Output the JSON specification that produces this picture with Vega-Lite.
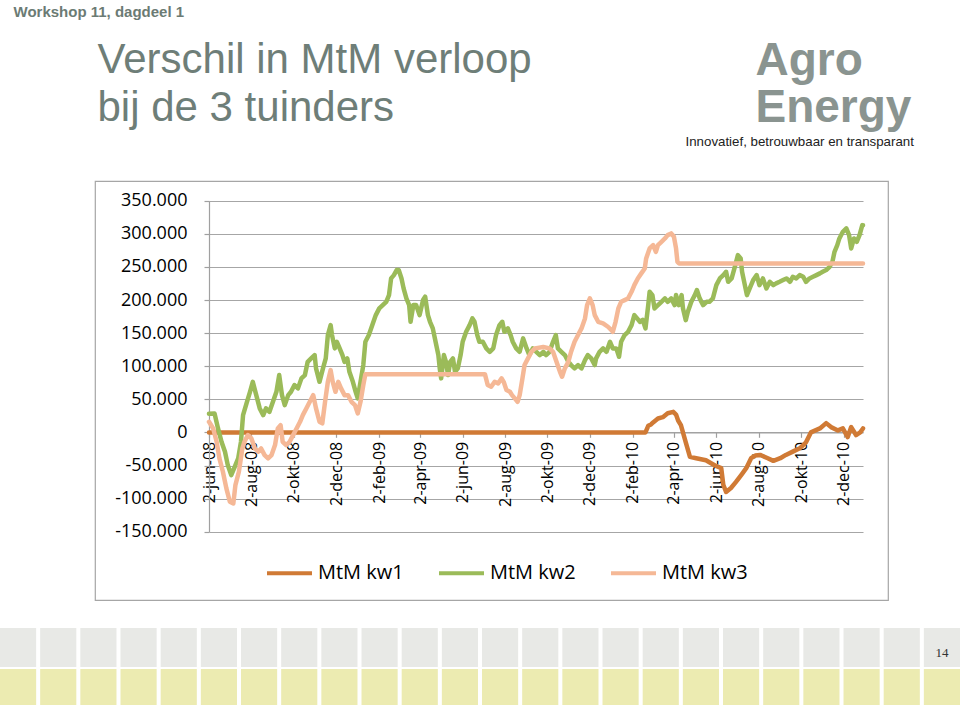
{
  "$schema": "https://vega.github.io/schema/vega-lite/v6.json",
  "autosize": {"type": "none"},
  "width": 793,
  "height": 419,
  "padding": {"left": 95, "top": 181, "right": 72, "bottom": 105},
  "background": "white",
  "config": {
    "view": {"stroke": "#a6a6a6", "strokeWidth": 1.2},
    "font": "Open Sans",
    "locale": {
      "number": {"decimal": ",", "thousands": ".", "grouping": [3], "currency": ["€ ", ""], "minus": "-"},
      "time": {
        "dateTime": "%a %e %B %Y %X",
        "date": "%d-%m-%Y",
        "time": "%H:%M:%S",
        "periods": ["AM", "PM"],
        "days": ["zondag", "maandag", "dinsdag", "woensdag", "donderdag", "vrijdag", "zaterdag"],
        "shortDays": ["zo", "ma", "di", "wo", "do", "vr", "za"],
        "months": ["januari", "februari", "maart", "april", "mei", "juni", "juli", "augustus", "september", "oktober", "november", "december"],
        "shortMonths": ["jan", "feb", "mrt", "apr", "mei", "jun", "jul", "aug", "sep", "okt", "nov", "dec"]
      }
    }
  },
  "resolve": {"scale": {"x": "independent", "y": "independent", "color": "independent"}, "axis": {"x": "independent", "y": "independent"}},
  "layer": [
    {
      "data": {
        "format": {"parse": {"dag": "date:'%Y-%m-%d'"}},
        "values": [
          {"reeks": "MtM kw1", "dag": "2008-06-02", "mtm": 0},
          {"reeks": "MtM kw1", "dag": "2010-02-20", "mtm": 0},
          {"reeks": "MtM kw1", "dag": "2010-02-24", "mtm": 10000},
          {"reeks": "MtM kw1", "dag": "2010-02-28", "mtm": 12000},
          {"reeks": "MtM kw1", "dag": "2010-03-03", "mtm": 15000},
          {"reeks": "MtM kw1", "dag": "2010-03-10", "mtm": 21000},
          {"reeks": "MtM kw1", "dag": "2010-03-17", "mtm": 23000},
          {"reeks": "MtM kw1", "dag": "2010-03-24", "mtm": 29000},
          {"reeks": "MtM kw1", "dag": "2010-04-01", "mtm": 31000},
          {"reeks": "MtM kw1", "dag": "2010-04-05", "mtm": 27000},
          {"reeks": "MtM kw1", "dag": "2010-04-08", "mtm": 18000},
          {"reeks": "MtM kw1", "dag": "2010-04-12", "mtm": 11000},
          {"reeks": "MtM kw1", "dag": "2010-04-19", "mtm": -15000},
          {"reeks": "MtM kw1", "dag": "2010-04-25", "mtm": -37000},
          {"reeks": "MtM kw1", "dag": "2010-05-04", "mtm": -39000},
          {"reeks": "MtM kw1", "dag": "2010-05-18", "mtm": -42000},
          {"reeks": "MtM kw1", "dag": "2010-05-31", "mtm": -50000},
          {"reeks": "MtM kw1", "dag": "2010-06-09", "mtm": -54000},
          {"reeks": "MtM kw1", "dag": "2010-06-12", "mtm": -79000},
          {"reeks": "MtM kw1", "dag": "2010-06-16", "mtm": -90000},
          {"reeks": "MtM kw1", "dag": "2010-06-23", "mtm": -84000},
          {"reeks": "MtM kw1", "dag": "2010-06-30", "mtm": -75000},
          {"reeks": "MtM kw1", "dag": "2010-07-08", "mtm": -64000},
          {"reeks": "MtM kw1", "dag": "2010-07-15", "mtm": -54000},
          {"reeks": "MtM kw1", "dag": "2010-07-22", "mtm": -39000},
          {"reeks": "MtM kw1", "dag": "2010-07-28", "mtm": -35000},
          {"reeks": "MtM kw1", "dag": "2010-08-04", "mtm": -34000},
          {"reeks": "MtM kw1", "dag": "2010-08-15", "mtm": -39000},
          {"reeks": "MtM kw1", "dag": "2010-08-23", "mtm": -43000},
          {"reeks": "MtM kw1", "dag": "2010-09-02", "mtm": -39000},
          {"reeks": "MtM kw1", "dag": "2010-09-10", "mtm": -34000},
          {"reeks": "MtM kw1", "dag": "2010-09-20", "mtm": -29000},
          {"reeks": "MtM kw1", "dag": "2010-09-30", "mtm": -24000},
          {"reeks": "MtM kw1", "dag": "2010-10-09", "mtm": -15000},
          {"reeks": "MtM kw1", "dag": "2010-10-16", "mtm": 0},
          {"reeks": "MtM kw1", "dag": "2010-10-29", "mtm": 6000},
          {"reeks": "MtM kw1", "dag": "2010-11-07", "mtm": 14000},
          {"reeks": "MtM kw1", "dag": "2010-11-14", "mtm": 8000},
          {"reeks": "MtM kw1", "dag": "2010-11-24", "mtm": 3000},
          {"reeks": "MtM kw1", "dag": "2010-12-01", "mtm": 6000},
          {"reeks": "MtM kw1", "dag": "2010-12-08", "mtm": -7000},
          {"reeks": "MtM kw1", "dag": "2010-12-13", "mtm": 8000},
          {"reeks": "MtM kw1", "dag": "2010-12-20", "mtm": -4000},
          {"reeks": "MtM kw1", "dag": "2010-12-26", "mtm": 0},
          {"reeks": "MtM kw1", "dag": "2010-12-30", "mtm": 6000},

          {"reeks": "MtM kw2", "dag": "2008-06-02", "mtm": 28000},
          {"reeks": "MtM kw2", "dag": "2008-06-10", "mtm": 28700},
          {"reeks": "MtM kw2", "dag": "2008-06-15", "mtm": 6000},
          {"reeks": "MtM kw2", "dag": "2008-06-20", "mtm": -14200},
          {"reeks": "MtM kw2", "dag": "2008-06-25", "mtm": -29300},
          {"reeks": "MtM kw2", "dag": "2008-06-29", "mtm": -49400},
          {"reeks": "MtM kw2", "dag": "2008-07-04", "mtm": -64500},
          {"reeks": "MtM kw2", "dag": "2008-07-09", "mtm": -52000},
          {"reeks": "MtM kw2", "dag": "2008-07-14", "mtm": -39300},
          {"reeks": "MtM kw2", "dag": "2008-07-18", "mtm": -14200},
          {"reeks": "MtM kw2", "dag": "2008-07-21", "mtm": 26100},
          {"reeks": "MtM kw2", "dag": "2008-07-26", "mtm": 43800},
          {"reeks": "MtM kw2", "dag": "2008-07-31", "mtm": 61300},
          {"reeks": "MtM kw2", "dag": "2008-08-04", "mtm": 76400},
          {"reeks": "MtM kw2", "dag": "2008-08-09", "mtm": 56300},
          {"reeks": "MtM kw2", "dag": "2008-08-14", "mtm": 36200},
          {"reeks": "MtM kw2", "dag": "2008-08-19", "mtm": 26100},
          {"reeks": "MtM kw2", "dag": "2008-08-23", "mtm": 36200},
          {"reeks": "MtM kw2", "dag": "2008-08-28", "mtm": 31100},
          {"reeks": "MtM kw2", "dag": "2008-09-02", "mtm": 46200},
          {"reeks": "MtM kw2", "dag": "2008-09-07", "mtm": 61300},
          {"reeks": "MtM kw2", "dag": "2008-09-11", "mtm": 86600},
          {"reeks": "MtM kw2", "dag": "2008-09-15", "mtm": 56300},
          {"reeks": "MtM kw2", "dag": "2008-09-19", "mtm": 41200},
          {"reeks": "MtM kw2", "dag": "2008-09-24", "mtm": 56300},
          {"reeks": "MtM kw2", "dag": "2008-09-28", "mtm": 61300},
          {"reeks": "MtM kw2", "dag": "2008-10-03", "mtm": 71500},
          {"reeks": "MtM kw2", "dag": "2008-10-08", "mtm": 66500},
          {"reeks": "MtM kw2", "dag": "2008-10-13", "mtm": 81600},
          {"reeks": "MtM kw2", "dag": "2008-10-18", "mtm": 86600},
          {"reeks": "MtM kw2", "dag": "2008-10-22", "mtm": 106600},
          {"reeks": "MtM kw2", "dag": "2008-10-27", "mtm": 111800},
          {"reeks": "MtM kw2", "dag": "2008-11-01", "mtm": 116800},
          {"reeks": "MtM kw2", "dag": "2008-11-03", "mtm": 96700},
          {"reeks": "MtM kw2", "dag": "2008-11-08", "mtm": 76400},
          {"reeks": "MtM kw2", "dag": "2008-11-13", "mtm": 96700},
          {"reeks": "MtM kw2", "dag": "2008-11-17", "mtm": 111800},
          {"reeks": "MtM kw2", "dag": "2008-11-20", "mtm": 147000},
          {"reeks": "MtM kw2", "dag": "2008-11-24", "mtm": 162100},
          {"reeks": "MtM kw2", "dag": "2008-11-26", "mtm": 147000},
          {"reeks": "MtM kw2", "dag": "2008-11-30", "mtm": 126900},
          {"reeks": "MtM kw2", "dag": "2008-12-03", "mtm": 136900},
          {"reeks": "MtM kw2", "dag": "2008-12-07", "mtm": 126900},
          {"reeks": "MtM kw2", "dag": "2008-12-11", "mtm": 116800},
          {"reeks": "MtM kw2", "dag": "2008-12-14", "mtm": 106600},
          {"reeks": "MtM kw2", "dag": "2008-12-18", "mtm": 111800},
          {"reeks": "MtM kw2", "dag": "2008-12-21", "mtm": 91500},
          {"reeks": "MtM kw2", "dag": "2008-12-26", "mtm": 76400},
          {"reeks": "MtM kw2", "dag": "2008-12-30", "mtm": 61300},
          {"reeks": "MtM kw2", "dag": "2009-01-02", "mtm": 51400},
          {"reeks": "MtM kw2", "dag": "2009-01-06", "mtm": 76400},
          {"reeks": "MtM kw2", "dag": "2009-01-10", "mtm": 101700},
          {"reeks": "MtM kw2", "dag": "2009-01-13", "mtm": 136900},
          {"reeks": "MtM kw2", "dag": "2009-01-18", "mtm": 147000},
          {"reeks": "MtM kw2", "dag": "2009-01-23", "mtm": 162100},
          {"reeks": "MtM kw2", "dag": "2009-01-28", "mtm": 177200},
          {"reeks": "MtM kw2", "dag": "2009-02-02", "mtm": 187300},
          {"reeks": "MtM kw2", "dag": "2009-02-07", "mtm": 192300},
          {"reeks": "MtM kw2", "dag": "2009-02-12", "mtm": 197300},
          {"reeks": "MtM kw2", "dag": "2009-02-16", "mtm": 207400},
          {"reeks": "MtM kw2", "dag": "2009-02-19", "mtm": 232600},
          {"reeks": "MtM kw2", "dag": "2009-02-23", "mtm": 237600},
          {"reeks": "MtM kw2", "dag": "2009-02-27", "mtm": 245200},
          {"reeks": "MtM kw2", "dag": "2009-03-02", "mtm": 245200},
          {"reeks": "MtM kw2", "dag": "2009-03-06", "mtm": 232600},
          {"reeks": "MtM kw2", "dag": "2009-03-09", "mtm": 217500},
          {"reeks": "MtM kw2", "dag": "2009-03-13", "mtm": 202400},
          {"reeks": "MtM kw2", "dag": "2009-03-17", "mtm": 192300},
          {"reeks": "MtM kw2", "dag": "2009-03-19", "mtm": 167100},
          {"reeks": "MtM kw2", "dag": "2009-03-23", "mtm": 192300},
          {"reeks": "MtM kw2", "dag": "2009-03-27", "mtm": 192300},
          {"reeks": "MtM kw2", "dag": "2009-04-01", "mtm": 177200},
          {"reeks": "MtM kw2", "dag": "2009-04-06", "mtm": 200000},
          {"reeks": "MtM kw2", "dag": "2009-04-09", "mtm": 205000},
          {"reeks": "MtM kw2", "dag": "2009-04-13", "mtm": 177200},
          {"reeks": "MtM kw2", "dag": "2009-04-16", "mtm": 167100},
          {"reeks": "MtM kw2", "dag": "2009-04-20", "mtm": 157100},
          {"reeks": "MtM kw2", "dag": "2009-04-24", "mtm": 136900},
          {"reeks": "MtM kw2", "dag": "2009-04-28", "mtm": 116800},
          {"reeks": "MtM kw2", "dag": "2009-04-30", "mtm": 96700},
          {"reeks": "MtM kw2", "dag": "2009-05-02", "mtm": 81600},
          {"reeks": "MtM kw2", "dag": "2009-05-06", "mtm": 116800},
          {"reeks": "MtM kw2", "dag": "2009-05-09", "mtm": 106600},
          {"reeks": "MtM kw2", "dag": "2009-05-12", "mtm": 86600},
          {"reeks": "MtM kw2", "dag": "2009-05-15", "mtm": 106600},
          {"reeks": "MtM kw2", "dag": "2009-05-19", "mtm": 111800},
          {"reeks": "MtM kw2", "dag": "2009-05-22", "mtm": 91500},
          {"reeks": "MtM kw2", "dag": "2009-05-26", "mtm": 96700},
          {"reeks": "MtM kw2", "dag": "2009-05-30", "mtm": 116800},
          {"reeks": "MtM kw2", "dag": "2009-06-02", "mtm": 136900},
          {"reeks": "MtM kw2", "dag": "2009-06-07", "mtm": 152000},
          {"reeks": "MtM kw2", "dag": "2009-06-12", "mtm": 162100},
          {"reeks": "MtM kw2", "dag": "2009-06-16", "mtm": 172200},
          {"reeks": "MtM kw2", "dag": "2009-06-19", "mtm": 167100},
          {"reeks": "MtM kw2", "dag": "2009-06-23", "mtm": 147000},
          {"reeks": "MtM kw2", "dag": "2009-06-26", "mtm": 136900},
          {"reeks": "MtM kw2", "dag": "2009-07-01", "mtm": 136900},
          {"reeks": "MtM kw2", "dag": "2009-07-06", "mtm": 126900},
          {"reeks": "MtM kw2", "dag": "2009-07-11", "mtm": 121800},
          {"reeks": "MtM kw2", "dag": "2009-07-16", "mtm": 126900},
          {"reeks": "MtM kw2", "dag": "2009-07-20", "mtm": 147000},
          {"reeks": "MtM kw2", "dag": "2009-07-25", "mtm": 162100},
          {"reeks": "MtM kw2", "dag": "2009-07-29", "mtm": 167100},
          {"reeks": "MtM kw2", "dag": "2009-08-01", "mtm": 152000},
          {"reeks": "MtM kw2", "dag": "2009-08-06", "mtm": 157100},
          {"reeks": "MtM kw2", "dag": "2009-08-10", "mtm": 147000},
          {"reeks": "MtM kw2", "dag": "2009-08-13", "mtm": 136900},
          {"reeks": "MtM kw2", "dag": "2009-08-18", "mtm": 126900},
          {"reeks": "MtM kw2", "dag": "2009-08-23", "mtm": 121800},
          {"reeks": "MtM kw2", "dag": "2009-08-28", "mtm": 142000},
          {"reeks": "MtM kw2", "dag": "2009-09-02", "mtm": 126900},
          {"reeks": "MtM kw2", "dag": "2009-09-06", "mtm": 116800},
          {"reeks": "MtM kw2", "dag": "2009-09-11", "mtm": 126900},
          {"reeks": "MtM kw2", "dag": "2009-09-16", "mtm": 121800},
          {"reeks": "MtM kw2", "dag": "2009-09-21", "mtm": 116800},
          {"reeks": "MtM kw2", "dag": "2009-09-26", "mtm": 121800},
          {"reeks": "MtM kw2", "dag": "2009-09-30", "mtm": 116800},
          {"reeks": "MtM kw2", "dag": "2009-10-05", "mtm": 121800},
          {"reeks": "MtM kw2", "dag": "2009-10-10", "mtm": 136900},
          {"reeks": "MtM kw2", "dag": "2009-10-14", "mtm": 147000},
          {"reeks": "MtM kw2", "dag": "2009-10-17", "mtm": 126900},
          {"reeks": "MtM kw2", "dag": "2009-10-22", "mtm": 121800},
          {"reeks": "MtM kw2", "dag": "2009-10-27", "mtm": 116800},
          {"reeks": "MtM kw2", "dag": "2009-11-01", "mtm": 106600},
          {"reeks": "MtM kw2", "dag": "2009-11-05", "mtm": 101700},
          {"reeks": "MtM kw2", "dag": "2009-11-10", "mtm": 96700},
          {"reeks": "MtM kw2", "dag": "2009-11-15", "mtm": 101700},
          {"reeks": "MtM kw2", "dag": "2009-11-20", "mtm": 96700},
          {"reeks": "MtM kw2", "dag": "2009-11-25", "mtm": 109200},
          {"reeks": "MtM kw2", "dag": "2009-11-29", "mtm": 116800},
          {"reeks": "MtM kw2", "dag": "2009-12-04", "mtm": 111800},
          {"reeks": "MtM kw2", "dag": "2009-12-09", "mtm": 101700},
          {"reeks": "MtM kw2", "dag": "2009-12-11", "mtm": 111800},
          {"reeks": "MtM kw2", "dag": "2009-12-16", "mtm": 121800},
          {"reeks": "MtM kw2", "dag": "2009-12-21", "mtm": 126900},
          {"reeks": "MtM kw2", "dag": "2009-12-26", "mtm": 121800},
          {"reeks": "MtM kw2", "dag": "2009-12-31", "mtm": 136900},
          {"reeks": "MtM kw2", "dag": "2010-01-04", "mtm": 126900},
          {"reeks": "MtM kw2", "dag": "2010-01-09", "mtm": 126900},
          {"reeks": "MtM kw2", "dag": "2010-01-13", "mtm": 114200},
          {"reeks": "MtM kw2", "dag": "2010-01-16", "mtm": 136900},
          {"reeks": "MtM kw2", "dag": "2010-01-21", "mtm": 147000},
          {"reeks": "MtM kw2", "dag": "2010-01-26", "mtm": 152000},
          {"reeks": "MtM kw2", "dag": "2010-01-31", "mtm": 162100},
          {"reeks": "MtM kw2", "dag": "2010-02-04", "mtm": 177200},
          {"reeks": "MtM kw2", "dag": "2010-02-08", "mtm": 172200},
          {"reeks": "MtM kw2", "dag": "2010-02-12", "mtm": 167100},
          {"reeks": "MtM kw2", "dag": "2010-02-16", "mtm": 170000},
          {"reeks": "MtM kw2", "dag": "2010-02-20", "mtm": 157100},
          {"reeks": "MtM kw2", "dag": "2010-02-24", "mtm": 192300},
          {"reeks": "MtM kw2", "dag": "2010-02-26", "mtm": 212400},
          {"reeks": "MtM kw2", "dag": "2010-03-02", "mtm": 207400},
          {"reeks": "MtM kw2", "dag": "2010-03-05", "mtm": 187300},
          {"reeks": "MtM kw2", "dag": "2010-03-10", "mtm": 192300},
          {"reeks": "MtM kw2", "dag": "2010-03-15", "mtm": 197300},
          {"reeks": "MtM kw2", "dag": "2010-03-20", "mtm": 202400},
          {"reeks": "MtM kw2", "dag": "2010-03-24", "mtm": 197300},
          {"reeks": "MtM kw2", "dag": "2010-03-29", "mtm": 202400},
          {"reeks": "MtM kw2", "dag": "2010-04-03", "mtm": 192300},
          {"reeks": "MtM kw2", "dag": "2010-04-05", "mtm": 207400},
          {"reeks": "MtM kw2", "dag": "2010-04-09", "mtm": 192300},
          {"reeks": "MtM kw2", "dag": "2010-04-13", "mtm": 207400},
          {"reeks": "MtM kw2", "dag": "2010-04-15", "mtm": 187300},
          {"reeks": "MtM kw2", "dag": "2010-04-19", "mtm": 169600},
          {"reeks": "MtM kw2", "dag": "2010-04-22", "mtm": 182200},
          {"reeks": "MtM kw2", "dag": "2010-04-27", "mtm": 197300},
          {"reeks": "MtM kw2", "dag": "2010-05-02", "mtm": 207400},
          {"reeks": "MtM kw2", "dag": "2010-05-05", "mtm": 215000},
          {"reeks": "MtM kw2", "dag": "2010-05-09", "mtm": 202400},
          {"reeks": "MtM kw2", "dag": "2010-05-14", "mtm": 192300},
          {"reeks": "MtM kw2", "dag": "2010-05-19", "mtm": 197300},
          {"reeks": "MtM kw2", "dag": "2010-05-23", "mtm": 197300},
          {"reeks": "MtM kw2", "dag": "2010-05-28", "mtm": 202400},
          {"reeks": "MtM kw2", "dag": "2010-06-02", "mtm": 222500},
          {"reeks": "MtM kw2", "dag": "2010-06-07", "mtm": 232600},
          {"reeks": "MtM kw2", "dag": "2010-06-12", "mtm": 237600},
          {"reeks": "MtM kw2", "dag": "2010-06-16", "mtm": 242600},
          {"reeks": "MtM kw2", "dag": "2010-06-19", "mtm": 227500},
          {"reeks": "MtM kw2", "dag": "2010-06-24", "mtm": 232600},
          {"reeks": "MtM kw2", "dag": "2010-06-28", "mtm": 247700},
          {"reeks": "MtM kw2", "dag": "2010-07-03", "mtm": 267800},
          {"reeks": "MtM kw2", "dag": "2010-07-07", "mtm": 262800},
          {"reeks": "MtM kw2", "dag": "2010-07-09", "mtm": 242600},
          {"reeks": "MtM kw2", "dag": "2010-07-13", "mtm": 222500},
          {"reeks": "MtM kw2", "dag": "2010-07-16", "mtm": 207400},
          {"reeks": "MtM kw2", "dag": "2010-07-20", "mtm": 217500},
          {"reeks": "MtM kw2", "dag": "2010-07-25", "mtm": 230000},
          {"reeks": "MtM kw2", "dag": "2010-07-30", "mtm": 237600},
          {"reeks": "MtM kw2", "dag": "2010-08-03", "mtm": 222500},
          {"reeks": "MtM kw2", "dag": "2010-08-08", "mtm": 232600},
          {"reeks": "MtM kw2", "dag": "2010-08-13", "mtm": 217500},
          {"reeks": "MtM kw2", "dag": "2010-08-18", "mtm": 227500},
          {"reeks": "MtM kw2", "dag": "2010-08-23", "mtm": 222500},
          {"reeks": "MtM kw2", "dag": "2010-08-27", "mtm": 225100},
          {"reeks": "MtM kw2", "dag": "2010-09-01", "mtm": 227500},
          {"reeks": "MtM kw2", "dag": "2010-09-06", "mtm": 230100},
          {"reeks": "MtM kw2", "dag": "2010-09-11", "mtm": 232600},
          {"reeks": "MtM kw2", "dag": "2010-09-16", "mtm": 227500},
          {"reeks": "MtM kw2", "dag": "2010-09-20", "mtm": 235100},
          {"reeks": "MtM kw2", "dag": "2010-09-25", "mtm": 232600},
          {"reeks": "MtM kw2", "dag": "2010-09-30", "mtm": 237600},
          {"reeks": "MtM kw2", "dag": "2010-10-05", "mtm": 235100},
          {"reeks": "MtM kw2", "dag": "2010-10-09", "mtm": 227500},
          {"reeks": "MtM kw2", "dag": "2010-10-14", "mtm": 232600},
          {"reeks": "MtM kw2", "dag": "2010-10-19", "mtm": 235100},
          {"reeks": "MtM kw2", "dag": "2010-10-24", "mtm": 237600},
          {"reeks": "MtM kw2", "dag": "2010-10-29", "mtm": 240200},
          {"reeks": "MtM kw2", "dag": "2010-11-02", "mtm": 242600},
          {"reeks": "MtM kw2", "dag": "2010-11-07", "mtm": 245200},
          {"reeks": "MtM kw2", "dag": "2010-11-12", "mtm": 250200},
          {"reeks": "MtM kw2", "dag": "2010-11-16", "mtm": 257700},
          {"reeks": "MtM kw2", "dag": "2010-11-19", "mtm": 272800},
          {"reeks": "MtM kw2", "dag": "2010-11-23", "mtm": 282900},
          {"reeks": "MtM kw2", "dag": "2010-11-26", "mtm": 293000},
          {"reeks": "MtM kw2", "dag": "2010-12-01", "mtm": 303000},
          {"reeks": "MtM kw2", "dag": "2010-12-06", "mtm": 308100},
          {"reeks": "MtM kw2", "dag": "2010-12-10", "mtm": 298000},
          {"reeks": "MtM kw2", "dag": "2010-12-13", "mtm": 277900},
          {"reeks": "MtM kw2", "dag": "2010-12-17", "mtm": 293000},
          {"reeks": "MtM kw2", "dag": "2010-12-21", "mtm": 287900},
          {"reeks": "MtM kw2", "dag": "2010-12-25", "mtm": 298000},
          {"reeks": "MtM kw2", "dag": "2010-12-29", "mtm": 313100},
          {"reeks": "MtM kw2", "dag": "2010-12-30", "mtm": 313000},

          {"reeks": "MtM kw3", "dag": "2008-06-02", "mtm": 16000},
          {"reeks": "MtM kw3", "dag": "2008-06-08", "mtm": 6000},
          {"reeks": "MtM kw3", "dag": "2008-06-13", "mtm": -14200},
          {"reeks": "MtM kw3", "dag": "2008-06-17", "mtm": -39300},
          {"reeks": "MtM kw3", "dag": "2008-06-22", "mtm": -59500},
          {"reeks": "MtM kw3", "dag": "2008-06-27", "mtm": -84600},
          {"reeks": "MtM kw3", "dag": "2008-07-02", "mtm": -104800},
          {"reeks": "MtM kw3", "dag": "2008-07-07", "mtm": -107300},
          {"reeks": "MtM kw3", "dag": "2008-07-10", "mtm": -79600},
          {"reeks": "MtM kw3", "dag": "2008-07-15", "mtm": -59500},
          {"reeks": "MtM kw3", "dag": "2008-07-20", "mtm": -24200},
          {"reeks": "MtM kw3", "dag": "2008-07-23", "mtm": -14200},
          {"reeks": "MtM kw3", "dag": "2008-07-28", "mtm": -4100},
          {"reeks": "MtM kw3", "dag": "2008-08-02", "mtm": -9100},
          {"reeks": "MtM kw3", "dag": "2008-08-07", "mtm": -24200},
          {"reeks": "MtM kw3", "dag": "2008-08-12", "mtm": -29300},
          {"reeks": "MtM kw3", "dag": "2008-08-16", "mtm": -24200},
          {"reeks": "MtM kw3", "dag": "2008-08-21", "mtm": -34300},
          {"reeks": "MtM kw3", "dag": "2008-08-26", "mtm": -39300},
          {"reeks": "MtM kw3", "dag": "2008-08-31", "mtm": -34300},
          {"reeks": "MtM kw3", "dag": "2008-09-05", "mtm": -19200},
          {"reeks": "MtM kw3", "dag": "2008-09-09", "mtm": 6000},
          {"reeks": "MtM kw3", "dag": "2008-09-13", "mtm": 11000},
          {"reeks": "MtM kw3", "dag": "2008-09-16", "mtm": -14200},
          {"reeks": "MtM kw3", "dag": "2008-09-21", "mtm": -19200},
          {"reeks": "MtM kw3", "dag": "2008-09-26", "mtm": -14200},
          {"reeks": "MtM kw3", "dag": "2008-10-01", "mtm": -4100},
          {"reeks": "MtM kw3", "dag": "2008-10-06", "mtm": 6000},
          {"reeks": "MtM kw3", "dag": "2008-10-11", "mtm": 16000},
          {"reeks": "MtM kw3", "dag": "2008-10-15", "mtm": 26100},
          {"reeks": "MtM kw3", "dag": "2008-10-20", "mtm": 36200},
          {"reeks": "MtM kw3", "dag": "2008-10-25", "mtm": 46200},
          {"reeks": "MtM kw3", "dag": "2008-10-30", "mtm": 56300},
          {"reeks": "MtM kw3", "dag": "2008-11-03", "mtm": 36200},
          {"reeks": "MtM kw3", "dag": "2008-11-08", "mtm": 16000},
          {"reeks": "MtM kw3", "dag": "2008-11-12", "mtm": 13600},
          {"reeks": "MtM kw3", "dag": "2008-11-16", "mtm": 46200},
          {"reeks": "MtM kw3", "dag": "2008-11-20", "mtm": 76400},
          {"reeks": "MtM kw3", "dag": "2008-11-24", "mtm": 94100},
          {"reeks": "MtM kw3", "dag": "2008-11-27", "mtm": 76400},
          {"reeks": "MtM kw3", "dag": "2008-12-01", "mtm": 61300},
          {"reeks": "MtM kw3", "dag": "2008-12-05", "mtm": 76400},
          {"reeks": "MtM kw3", "dag": "2008-12-09", "mtm": 66500},
          {"reeks": "MtM kw3", "dag": "2008-12-14", "mtm": 56300},
          {"reeks": "MtM kw3", "dag": "2008-12-19", "mtm": 56300},
          {"reeks": "MtM kw3", "dag": "2008-12-24", "mtm": 46200},
          {"reeks": "MtM kw3", "dag": "2008-12-29", "mtm": 41200},
          {"reeks": "MtM kw3", "dag": "2009-01-02", "mtm": 28700},
          {"reeks": "MtM kw3", "dag": "2009-01-06", "mtm": 46200},
          {"reeks": "MtM kw3", "dag": "2009-01-10", "mtm": 71500},
          {"reeks": "MtM kw3", "dag": "2009-01-13", "mtm": 88000},
          {"reeks": "MtM kw3", "dag": "2009-07-04", "mtm": 88000},
          {"reeks": "MtM kw3", "dag": "2009-07-08", "mtm": 71500},
          {"reeks": "MtM kw3", "dag": "2009-07-13", "mtm": 68900},
          {"reeks": "MtM kw3", "dag": "2009-07-18", "mtm": 76400},
          {"reeks": "MtM kw3", "dag": "2009-07-23", "mtm": 74000},
          {"reeks": "MtM kw3", "dag": "2009-07-28", "mtm": 81600},
          {"reeks": "MtM kw3", "dag": "2009-07-31", "mtm": 76400},
          {"reeks": "MtM kw3", "dag": "2009-08-04", "mtm": 63900},
          {"reeks": "MtM kw3", "dag": "2009-08-09", "mtm": 61300},
          {"reeks": "MtM kw3", "dag": "2009-08-12", "mtm": 56300},
          {"reeks": "MtM kw3", "dag": "2009-08-16", "mtm": 51400},
          {"reeks": "MtM kw3", "dag": "2009-08-20", "mtm": 46200},
          {"reeks": "MtM kw3", "dag": "2009-08-23", "mtm": 56300},
          {"reeks": "MtM kw3", "dag": "2009-08-27", "mtm": 81600},
          {"reeks": "MtM kw3", "dag": "2009-08-30", "mtm": 101700},
          {"reeks": "MtM kw3", "dag": "2009-09-04", "mtm": 111800},
          {"reeks": "MtM kw3", "dag": "2009-09-09", "mtm": 121800},
          {"reeks": "MtM kw3", "dag": "2009-09-14", "mtm": 126900},
          {"reeks": "MtM kw3", "dag": "2009-09-26", "mtm": 129000},
          {"reeks": "MtM kw3", "dag": "2009-10-05", "mtm": 126900},
          {"reeks": "MtM kw3", "dag": "2009-10-10", "mtm": 121800},
          {"reeks": "MtM kw3", "dag": "2009-10-15", "mtm": 106600},
          {"reeks": "MtM kw3", "dag": "2009-10-20", "mtm": 91500},
          {"reeks": "MtM kw3", "dag": "2009-10-23", "mtm": 84000},
          {"reeks": "MtM kw3", "dag": "2009-10-27", "mtm": 96700},
          {"reeks": "MtM kw3", "dag": "2009-11-01", "mtm": 106600},
          {"reeks": "MtM kw3", "dag": "2009-11-05", "mtm": 121800},
          {"reeks": "MtM kw3", "dag": "2009-11-10", "mtm": 136900},
          {"reeks": "MtM kw3", "dag": "2009-11-15", "mtm": 147000},
          {"reeks": "MtM kw3", "dag": "2009-11-20", "mtm": 157100},
          {"reeks": "MtM kw3", "dag": "2009-11-25", "mtm": 172200},
          {"reeks": "MtM kw3", "dag": "2009-11-28", "mtm": 192300},
          {"reeks": "MtM kw3", "dag": "2009-12-02", "mtm": 202400},
          {"reeks": "MtM kw3", "dag": "2009-12-06", "mtm": 192300},
          {"reeks": "MtM kw3", "dag": "2009-12-09", "mtm": 177200},
          {"reeks": "MtM kw3", "dag": "2009-12-14", "mtm": 167100},
          {"reeks": "MtM kw3", "dag": "2009-12-21", "mtm": 164700},
          {"reeks": "MtM kw3", "dag": "2009-12-28", "mtm": 159600},
          {"reeks": "MtM kw3", "dag": "2010-01-02", "mtm": 154500},
          {"reeks": "MtM kw3", "dag": "2010-01-04", "mtm": 152000},
          {"reeks": "MtM kw3", "dag": "2010-01-08", "mtm": 167100},
          {"reeks": "MtM kw3", "dag": "2010-01-12", "mtm": 187300},
          {"reeks": "MtM kw3", "dag": "2010-01-16", "mtm": 197300},
          {"reeks": "MtM kw3", "dag": "2010-01-21", "mtm": 199800},
          {"reeks": "MtM kw3", "dag": "2010-01-26", "mtm": 202400},
          {"reeks": "MtM kw3", "dag": "2010-01-31", "mtm": 212400},
          {"reeks": "MtM kw3", "dag": "2010-02-04", "mtm": 222500},
          {"reeks": "MtM kw3", "dag": "2010-02-09", "mtm": 232600},
          {"reeks": "MtM kw3", "dag": "2010-02-14", "mtm": 240200},
          {"reeks": "MtM kw3", "dag": "2010-02-19", "mtm": 247700},
          {"reeks": "MtM kw3", "dag": "2010-02-21", "mtm": 262800},
          {"reeks": "MtM kw3", "dag": "2010-02-26", "mtm": 277900},
          {"reeks": "MtM kw3", "dag": "2010-03-03", "mtm": 282900},
          {"reeks": "MtM kw3", "dag": "2010-03-07", "mtm": 272800},
          {"reeks": "MtM kw3", "dag": "2010-03-10", "mtm": 282900},
          {"reeks": "MtM kw3", "dag": "2010-03-15", "mtm": 287900},
          {"reeks": "MtM kw3", "dag": "2010-03-20", "mtm": 293000},
          {"reeks": "MtM kw3", "dag": "2010-03-24", "mtm": 298000},
          {"reeks": "MtM kw3", "dag": "2010-03-29", "mtm": 300600},
          {"reeks": "MtM kw3", "dag": "2010-04-02", "mtm": 295500},
          {"reeks": "MtM kw3", "dag": "2010-04-05", "mtm": 277900},
          {"reeks": "MtM kw3", "dag": "2010-04-07", "mtm": 257700},
          {"reeks": "MtM kw3", "dag": "2010-04-09", "mtm": 255300},
          {"reeks": "MtM kw3", "dag": "2010-12-30", "mtm": 255300}
        ]
      },
      "mark": {"type": "line", "strokeWidth": 4.5, "strokeJoin": "round", "strokeCap": "round"},
      "encoding": {
        "x": {
          "field": "dag", "type": "temporal",
          "scale": {"domain": [{"year": 2008, "month": 6, "date": 2}, {"year": 2010, "month": 12, "date": 30}], "range": [114, 768], "nice": false},
          "axis": {
            "orient": "bottom", "offset": -167.7,
            "values": [
              {"year": 2008, "month": 6, "date": 2}, {"year": 2008, "month": 8, "date": 2}, {"year": 2008, "month": 10, "date": 2}, {"year": 2008, "month": 12, "date": 2},
              {"year": 2009, "month": 2, "date": 2}, {"year": 2009, "month": 4, "date": 2}, {"year": 2009, "month": 6, "date": 2}, {"year": 2009, "month": 8, "date": 2},
              {"year": 2009, "month": 10, "date": 2}, {"year": 2009, "month": 12, "date": 2}, {"year": 2010, "month": 2, "date": 2}, {"year": 2010, "month": 4, "date": 2},
              {"year": 2010, "month": 6, "date": 2}, {"year": 2010, "month": 8, "date": 2}, {"year": 2010, "month": 10, "date": 2}, {"year": 2010, "month": 12, "date": 2}
            ],
            "format": "%-d-%b-%y",
            "labelAngle": -90, "labelFont": "Open Sans", "labelFontSize": 16, "labelColor": "#000000", "labelPadding": 4,
            "labelOverlap": false, "labelFlush": false, "labelBound": false,
            "grid": false, "domainColor": "#a0a0a0", "domainWidth": 1.2, "tickColor": "#a0a0a0", "tickSize": 5, "tickWidth": 1.2,
            "title": ["Agro", "Energy"], "titleX": 660, "titleY": -358, "titleAngle": 0, "titleAlign": "left", "titleBaseline": "alphabetic",
            "titleFont": "Liberation Sans", "titleFontWeight": "bold", "titleFontSize": 46, "titleLineHeight": 47, "titleColor": "#8a9490"
          }
        },
        "y": {
          "field": "mtm", "type": "quantitative",
          "scale": {"domain": [-150000, 350000], "range": [350.7, 19.7], "nice": false, "zero": false},
          "axis": {
            "orient": "left", "offset": -114,
            "values": [-150000, -100000, -50000, 0, 50000, 100000, 150000, 200000, 250000, 300000, 350000],
            "format": ",d",
            "labelFont": "Open Sans", "labelFontSize": 18, "labelColor": "#000000", "labelPadding": 17,
            "grid": true, "gridColor": "#a6a6a6", "gridWidth": 1.2,
            "domainColor": "#a0a0a0", "domainWidth": 1.2, "tickColor": "#a0a0a0", "tickSize": 5, "tickWidth": 1.2,
            "title": ["Verschil in MtM verloop", "bij de 3 tuinders"], "titleX": -112, "titleY": -108.3, "titleAngle": 0, "titleAlign": "left", "titleBaseline": "alphabetic",
            "titleFont": "Liberation Sans", "titleFontWeight": "normal", "titleFontSize": 42, "titleLineHeight": 47.5, "titleColor": "#6e7e78"
          }
        },
        "color": {
          "field": "reeks", "type": "nominal",
          "scale": {"domain": ["MtM kw1", "MtM kw2", "MtM kw3"], "range": ["#d07a35", "#9bbb59", "#f5b896"]},
          "legend": {
            "orient": "none", "legendX": 170, "legendY": 367.5, "direction": "horizontal", "title": null,
            "symbolType": "stroke", "symbolSize": 2025, "symbolStrokeWidth": 4,
            "labelFont": "Open Sans", "labelFontSize": 20, "labelColor": "#000000", "labelOffset": 4, "columnPadding": 27, "padding": 0
          }
        }
      }
    },
    {
      "layer": [
        {
          "data": {
            "values": [
              {"kolom": 1, "rij": "grijs"}, {"kolom": 2, "rij": "grijs"}, {"kolom": 3, "rij": "grijs"}, {"kolom": 4, "rij": "grijs"},
              {"kolom": 5, "rij": "grijs"}, {"kolom": 6, "rij": "grijs"}, {"kolom": 7, "rij": "grijs"}, {"kolom": 8, "rij": "grijs"},
              {"kolom": 9, "rij": "grijs"}, {"kolom": 10, "rij": "grijs"}, {"kolom": 11, "rij": "grijs"}, {"kolom": 12, "rij": "grijs"},
              {"kolom": 13, "rij": "grijs"}, {"kolom": 14, "rij": "grijs"}, {"kolom": 15, "rij": "grijs"}, {"kolom": 16, "rij": "grijs"},
              {"kolom": 17, "rij": "grijs"}, {"kolom": 18, "rij": "grijs"}, {"kolom": 19, "rij": "grijs"}, {"kolom": 20, "rij": "grijs"},
              {"kolom": 21, "rij": "grijs"}, {"kolom": 22, "rij": "grijs"}, {"kolom": 23, "rij": "grijs"}, {"kolom": 24, "rij": "grijs"},
              {"kolom": 1, "rij": "geel"}, {"kolom": 2, "rij": "geel"}, {"kolom": 3, "rij": "geel"}, {"kolom": 4, "rij": "geel"},
              {"kolom": 5, "rij": "geel"}, {"kolom": 6, "rij": "geel"}, {"kolom": 7, "rij": "geel"}, {"kolom": 8, "rij": "geel"},
              {"kolom": 9, "rij": "geel"}, {"kolom": 10, "rij": "geel"}, {"kolom": 11, "rij": "geel"}, {"kolom": 12, "rij": "geel"},
              {"kolom": 13, "rij": "geel"}, {"kolom": 14, "rij": "geel"}, {"kolom": 15, "rij": "geel"}, {"kolom": 16, "rij": "geel"},
              {"kolom": 17, "rij": "geel"}, {"kolom": 18, "rij": "geel"}, {"kolom": 19, "rij": "geel"}, {"kolom": 20, "rij": "geel"},
              {"kolom": 21, "rij": "geel"}, {"kolom": 22, "rij": "geel"}, {"kolom": 23, "rij": "geel"}, {"kolom": 24, "rij": "geel"}
            ]
          },
          "mark": {"type": "rect"},
          "encoding": {
            "x": {
              "field": "kolom", "type": "ordinal",
              "scale": {"type": "band", "domain": [1, 2, 3, 4, 5, 6, 7, 8, 9, 10, 11, 12, 13, 14, 15, 16, 17, 18, 19, 20, 21, 22, 23, 24], "range": [-95, 865], "paddingInner": 0.1, "paddingOuter": 0},
              "axis": {
                "orient": "top", "domain": false, "ticks": false, "labels": false, "grid": false,
                "title": "Innovatief, betrouwbaar en transparant", "titleX": 590, "titleY": -36, "titleAngle": 0, "titleAlign": "left", "titleBaseline": "alphabetic",
                "titleFont": "Liberation Sans", "titleFontWeight": "normal", "titleFontSize": 13.3, "titleColor": "#222222"
              }
            },
            "y": {
              "field": "rij", "type": "nominal",
              "scale": {"type": "band", "domain": ["grijs", "geel"], "range": [447, 527], "paddingInner": 0.05, "paddingOuter": 0},
              "axis": {
                "orient": "left", "domain": false, "ticks": false, "labels": false, "grid": false,
                "title": "Workshop 11, dagdeel 1", "titleX": -82, "titleY": -164.3, "titleAngle": 0, "titleAlign": "left", "titleBaseline": "alphabetic",
                "titleFont": "Liberation Sans", "titleFontWeight": "bold", "titleFontSize": 15, "titleColor": "#6b7b74"
              }
            },
            "color": {
              "field": "rij", "type": "nominal",
              "scale": {"domain": ["grijs", "geel"], "range": ["#e8e9e6", "#ecebb1"]},
              "legend": null
            }
          }
        },
        {
          "data": {"values": [{"kolom": 24, "rij": "grijs", "pagina": "14"}]},
          "mark": {"type": "text", "font": "Liberation Sans Narrow", "fontSize": 13, "color": "#333333", "baseline": "top", "align": "center"},
          "encoding": {
            "x": {"field": "kolom", "type": "ordinal"},
            "y": {"field": "rij", "type": "nominal"},
            "text": {"field": "pagina"}
          }
        }
      ]
    }
  ]
}
